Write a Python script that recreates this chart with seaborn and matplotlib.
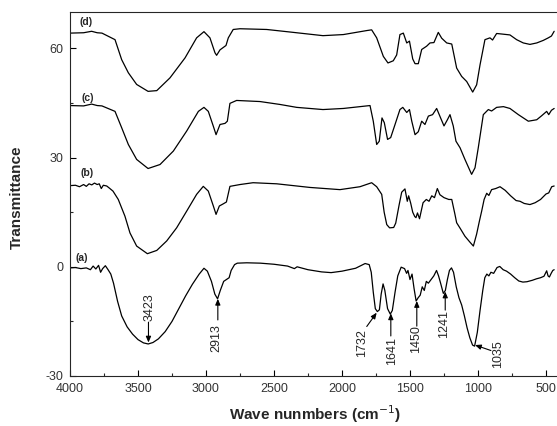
import numpy as np
import pandas as pd
import matplotlib
matplotlib.use("Agg")
import matplotlib.pyplot as plt
from matplotlib.ticker import MultipleLocator
import seaborn as sns

# spectrum (a)
wn_a = [4000, 3960, 3920, 3880, 3850, 3830, 3810, 3790, 3775, 3760, 3740, 3720, 3700, 3680,
        3650, 3620, 3580, 3540, 3500, 3460, 3425, 3390, 3350, 3300, 3250, 3200, 3150, 3100,
        3050, 3015, 2990, 2960, 2935, 2915, 2895, 2870, 2850, 2830, 2815, 2790, 2770, 2700,
        2600, 2500, 2400, 2350, 2330, 2250, 2150, 2080, 2000, 1900, 1830, 1800, 1785, 1770,
        1755, 1740, 1725, 1712, 1698, 1685, 1665, 1645, 1630, 1610, 1590, 1565, 1540, 1525,
        1515, 1500, 1485, 1470, 1455, 1440, 1425, 1410, 1395, 1380, 1365, 1345, 1325, 1305,
        1290, 1275, 1255, 1240, 1225, 1210, 1195, 1180, 1160, 1140, 1120, 1100, 1080, 1060,
        1040, 1025, 1005, 985, 965, 950, 935, 920, 905, 885, 860, 840, 815, 790, 760, 730,
        700, 670, 640, 600, 570, 540, 515, 495, 485, 475, 462, 450, 440]
tr_a = [-0.3, -0.2, -0.5, -0.3, -0.8, 0.2, -0.6, 0.4, -1.5, -0.5, 0.3, -0.8, -2.0, -4.5,
        -9.5, -13.5, -16.5, -18.5, -20.0, -20.9, -21.2, -20.8, -19.8, -17.8, -15.0, -11.5, -8.0, -4.8,
        -2.0, -0.4, -1.2, -4.0, -7.5, -8.8, -6.5, -4.0, -3.5, -3.0, -1.0, 0.6, 1.0, 1.1,
        1.0, 0.7, 0.2, -0.5, 0.0, -0.8, -1.4, -1.6, -1.2, -0.4, 0.9, 0.6, -1.5, -7.0,
        -11.5, -12.3, -11.8, -7.5, -4.7, -6.5, -11.5, -13.0, -12.0, -7.0, -2.5, -0.1, -0.5, -1.8,
        -1.0, -3.5, -2.0, -6.0, -9.4, -8.5, -7.8, -5.5, -6.5, -4.0, -4.5, -3.5, -2.5, -1.0,
        -2.5, -4.5, -7.3, -6.5, -3.5, -1.0, -0.3, -1.5, -5.5, -8.5, -10.5, -13.5, -16.8, -19.5,
        -21.5, -21.8, -18.0, -12.0, -6.5, -3.0, -2.0, -2.5, -1.5, -1.8, -0.2, 0.1, -0.8, -1.2, -2.0, -3.0,
        -3.9, -4.2, -4.1, -3.7, -3.3, -3.0, -2.6, -1.1, -2.5, -2.8, -1.8, -1.0, -0.8]

# spectrum (b)
wn_b = [4000, 3960, 3930, 3900, 3880, 3860, 3840, 3820, 3800, 3785, 3770, 3755, 3730, 3710,
        3684, 3645, 3596, 3559, 3510, 3431, 3362, 3289, 3216, 3142, 3069, 3020, 2983, 2946,
        2926, 2902, 2873, 2850, 2824, 2750, 2654, 2480, 2235, 2015, 1868, 1782, 1745, 1708,
        1690, 1671, 1650, 1620, 1605, 1580, 1561, 1537, 1520, 1510, 1495, 1480, 1465, 1456,
        1445, 1430, 1404, 1380, 1360, 1340, 1320, 1299, 1280, 1250, 1215, 1193, 1170, 1157,
        1130, 1096, 1060, 1034, 1010, 990, 973, 955, 936, 920, 900, 870, 838, 800, 760, 720,
        691, 660, 618, 580, 540, 500, 480, 458, 440]
tr_b = [22.3, 22.4, 22.0, 22.6, 22.1, 22.8, 22.5, 23.0, 22.6, 22.8, 21.5, 22.4, 22.2, 21.6,
        20.8, 18.5, 13.9, 9.3, 5.7, 3.6, 4.5, 7.1, 10.7, 15.3, 19.9, 22.1, 20.8, 16.7,
        14.4, 16.7, 17.3, 17.8, 22.1, 22.6, 23.1, 22.8, 21.8, 21.2, 22.0, 23.1, 22.0, 19.9,
        15.0, 11.6, 10.7, 10.8, 12.0, 17.0, 20.5, 21.4, 18.0, 19.5, 17.5, 15.0, 13.8, 13.5,
        14.8, 13.2, 17.6, 18.5, 18.0, 19.5, 19.0, 21.5, 19.8, 19.0, 18.5, 18.5, 14.5, 12.1,
        10.5, 8.4, 6.8, 5.7, 9.0, 12.5, 15.3, 18.5, 20.2, 19.6, 21.2, 21.5, 22.0, 21.0, 19.5, 18.2,
        18.0, 17.4, 17.1, 17.6, 18.5, 20.0, 20.3, 22.0, 22.2]

# spectrum (c)
wn_c = [4000, 3900, 3841, 3800, 3765, 3669, 3620, 3571, 3510, 3426, 3338, 3240, 3142, 3056,
        3015, 2983, 2946, 2926, 2897, 2860, 2843, 2824, 2775, 2603, 2456, 2333, 2140, 1990,
        1794, 1770, 1745, 1726, 1706, 1689, 1665, 1642, 1610, 1574, 1553, 1524, 1504, 1487,
        1463, 1439, 1414, 1390, 1365, 1334, 1304, 1275, 1250, 1225, 1206, 1182, 1162, 1132,
        1096, 1047, 1022, 998, 961, 924, 900, 863, 813, 765, 703, 630, 568, 532, 495, 480,
        460, 440]
tr_c = [44.3, 44.2, 44.7, 44.3, 44.2, 42.7, 38.2, 33.6, 29.5, 27.0, 28.1, 31.8, 37.3, 42.7,
        43.8, 42.7, 38.6, 36.3, 39.1, 39.4, 40.0, 44.9, 45.7, 45.4, 44.6, 43.8, 43.2, 43.5,
        44.3, 40.0, 33.6, 34.5, 40.9, 39.6, 35.0, 35.5, 39.1, 43.2, 43.8, 42.4, 43.2, 40.0,
        36.3, 37.1, 40.0, 39.1, 41.4, 41.8, 43.5, 40.9, 38.7, 40.4, 41.8, 38.7, 34.5, 32.7,
        29.5, 25.4, 27.2, 32.7, 41.8, 43.2, 42.8, 43.8, 44.0, 43.5, 41.8, 40.0, 40.4, 41.5, 42.7, 41.8,
        43.0, 43.5]

# spectrum (d)
wn_d = [4000, 3900, 3841, 3800, 3765, 3669, 3620, 3571, 3510, 3426, 3362, 3265, 3154, 3069,
        3015, 2971, 2934, 2922, 2897, 2853, 2836, 2800, 2750, 2554, 2382, 2140, 1990, 1818,
        1782, 1745, 1696, 1662, 1623, 1598, 1574, 1549, 1524, 1504, 1480, 1463, 1439, 1414,
        1378, 1353, 1324, 1292, 1267, 1230, 1193, 1157, 1120, 1083, 1039, 1010, 985, 949,
        912, 893, 863, 813, 765, 716, 667, 618, 568, 520, 483, 460, 440]
tr_d = [64.2, 64.3, 64.7, 64.3, 64.2, 62.4, 56.9, 53.3, 50.1, 48.2, 48.4, 51.9, 57.4, 62.9,
        64.6, 62.9, 58.8, 58.1, 59.6, 60.8, 62.9, 65.2, 65.4, 65.2, 64.5, 63.5, 63.8, 64.9,
        65.1, 62.9, 57.8, 56.0, 56.6, 58.2, 63.8, 64.2, 61.5, 62.0, 57.1, 55.8, 55.8, 59.7,
        60.6, 61.5, 61.6, 64.4, 62.8, 61.5, 61.2, 54.6, 52.3, 50.9, 48.0, 50.0, 55.5, 62.4,
        62.9, 62.3, 64.1, 63.9, 63.7, 62.4, 61.5, 61.1, 61.5, 62.2, 62.9, 63.4, 64.7]

sample_labels = ["(a)", "(b)", "(c)", "(d)"]
peak_labels = ["3423", "2913", "1732", "1641", "1450", "1241", "1035"]

frames = []
for lab, wn, tr in zip(sample_labels, [wn_a, wn_b, wn_c, wn_d], [tr_a, tr_b, tr_c, tr_d]):
    frames.append(pd.DataFrame({"wn": wn, "tr": tr, "sample": lab}))
df = pd.concat(frames, ignore_index=True)

sns.set_style("ticks")
plt.rcParams["font.family"] = ["Liberation Sans", "DejaVu Sans"]
plt.rcParams["xtick.direction"] = "in"
plt.rcParams["ytick.direction"] = "in"
plt.rcParams["axes.unicode_minus"] = False

fig = plt.figure(figsize=(5.57, 4.26), dpi=100)
ax = fig.add_axes([70 / 557, 50 / 426, 489.6 / 557, 364 / 426])

sns.lineplot(data=df, x="wn", y="tr", units="sample", estimator=None,
             color="black", linewidth=0.9, ax=ax)

ax.set_xlim(4000, 400)
ax.set_ylim(-30, 70)
ax.xaxis.set_major_locator(MultipleLocator(500))
ax.xaxis.set_minor_locator(MultipleLocator(250))
ax.yaxis.set_major_locator(MultipleLocator(30))
ax.yaxis.set_minor_locator(MultipleLocator(15))
ax.tick_params(which="major", length=4, width=0.8, labelsize=9, pad=5,
               colors="black", labelcolor="#333333")
ax.tick_params(which="minor", length=2.5, width=0.8)
for s in ax.spines.values():
    s.set_linewidth(0.8)

ax.set_xlabel("Wave nunmbers (cm$^{-1}$)", fontsize=11, fontweight="bold")
ax.set_ylabel("Transmittance", fontsize=11, fontweight="bold")
ax.xaxis.set_label_coords(0.5, -0.076)
ax.yaxis.set_label_coords(-0.095, 0.49)

# sample labels above each trace
label_pos = [(3914, 2.5), (3877, 25.8), (3873, 46.4), (3882, 67.3)]
for lab, (x, y) in zip(sample_labels, label_pos):
    ax.text(x, y, lab, fontsize=7.5, fontweight="bold", ha="center", va="center")

# peak annotations on trace (a): text centre, arrow tail, arrow tip
text_pos = [(3412, -11.2), (2926, -19.5), (1855, -20.9), (1635, -23.1), (1458, -19.9), (1250, -15.8), (855, -24.0)]
tails = [(3423, -15.2), (2913, -14.6), (1818, -16.4), (1641, -19.0), (1450, -16.3), (1241, -11.9), (905, -23.0)]
tips = [(3423, -20.8), (2913, -8.8), (1745, -12.6), (1641, -12.8), (1450, -9.4), (1241, -6.8), (1022, -21.5)]
for lab, tp, tl, tip in zip(peak_labels, text_pos, tails, tips):
    ax.text(tp[0], tp[1], lab, rotation=90, fontsize=9, ha="center", va="center")
    ax.annotate("", xy=tip, xytext=tl,
                arrowprops=dict(arrowstyle="-|>,head_length=0.35,head_width=0.15",
                                color="black", lw=0.8, shrinkA=0, shrinkB=0))

fig.savefig("out.png", dpi=100)
